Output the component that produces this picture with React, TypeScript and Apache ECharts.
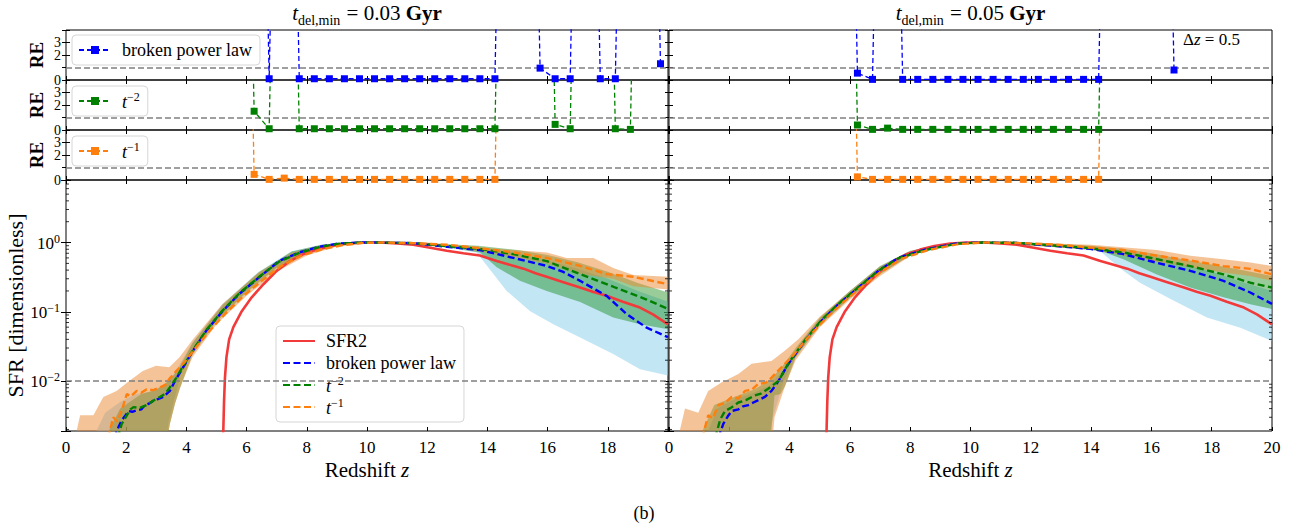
import React, { useEffect, useRef } from 'react';
import * as echarts from 'echarts';

// ---------- DATA ----------
const xTicks = [0, 2, 4, 6, 8, 10, 12, 14, 16, 18, 20];
const logTicks = [0.01, 0.1, 1];
const minorLogTicks = [0.002, 0.003, 0.004, 0.005, 0.006, 0.007, 0.008, 0.009, 0.02, 0.03, 0.04, 0.05, 0.06, 0.07, 0.08, 0.09, 0.2, 0.3, 0.4, 0.5, 0.6, 0.7, 0.8, 0.9, 2, 3, 4, 5, 6, 7, 8];

// relative-error panels (Δz = 0.5 bins)
const zRE = [5.75, 6.25, 6.75, 7.25, 7.75, 8.25, 8.75, 9.25, 9.75, 10.25, 10.75, 11.25, 11.75, 12.25, 12.75, 13.25, 13.75, 14.25, 14.75, 15.25, 15.75, 16.25, 16.75, 17.25, 17.75, 18.25, 18.75, 19.25, 19.75];
const reBplLeft = [null, 60, 0.1, 60, 0.1, 0.1, 0.1, 0.1, 0.1, 0.1, 0.1, 0.1, 0.1, 0.1, 0.1, 0.1, 0.1, 0.1, 60, 60, 0.95, 0.1, 0.1, 60, 0.1, 0.1, 60, 60, 1.3];
const reT2Left = [60, 1.5, 0.1, 60, 0.1, 0.1, 0.1, 0.1, 0.1, 0.1, 0.1, 0.1, 0.1, 0.1, 0.1, 0.1, 0.1, 0.1, 60, 60, 60, 0.45, 0.1, 60, 60, 0.1, 0.05, 60, 60];
const reT1Left = [60, 0.45, 0.05, 0.15, 0.05, 0.05, 0.05, 0.05, 0.05, 0.05, 0.05, 0.05, 0.05, 0.05, 0.05, 0.05, 0.05, 0.05, 60, null, null, null, null, null, null, null, null, null, null];
const reBplRight = [60, 0.55, 0.05, 60, 0.05, 0.05, 0.05, 0.05, 0.05, 0.05, 0.05, 0.05, 0.05, 0.05, 0.05, 0.05, 0.05, 0.05, 60, 60, 60, 60, 0.8, null, null, null, null, null, null];
const reT2Right = [60, 0.4, 0.05, 0.15, 0.05, 0.05, 0.05, 0.05, 0.05, 0.05, 0.05, 0.05, 0.05, 0.05, 0.05, 0.05, 0.05, 0.05, 60, null, null, null, null, null, null, null, null, null, null];
const reT1Right = [60, 0.25, 0.05, 0.05, 0.05, 0.05, 0.05, 0.05, 0.05, 0.05, 0.05, 0.05, 0.05, 0.05, 0.05, 0.05, 0.05, 0.05, 60, null, null, null, null, null, null, null, null, null, null];

// SFR panels: [redshift, SFR]
const sfr2 = [[5.22, 0.0015], [5.25, 0.005], [5.28, 0.011], [5.33, 0.022], [5.42, 0.04], [5.56, 0.06], [5.84, 0.102], [6.17, 0.162], [6.56, 0.25], [7.0, 0.39], [7.44, 0.54], [7.88, 0.68], [8.33, 0.79], [8.8, 0.89], [9.33, 0.97], [9.9, 1.0], [10.45, 1.0], [11.0, 0.97], [11.54, 0.93], [12.1, 0.84], [12.65, 0.76], [13.2, 0.7], [13.75, 0.65], [14.31, 0.54], [14.8, 0.47], [15.2, 0.42], [15.6, 0.36], [15.97, 0.32], [16.5, 0.27], [17.08, 0.224], [17.5, 0.195], [17.96, 0.17], [18.5, 0.14], [19.07, 0.115], [19.5, 0.092], [20, 0.066]];

const bplLeft = [[1.6, 0.0015], [1.75, 0.0022], [1.85, 0.0027], [2.0, 0.0033], [2.07, 0.0037], [2.2, 0.0036], [2.35, 0.0038], [2.5, 0.0039], [2.62, 0.0045], [2.75, 0.0047], [2.9, 0.0052], [3.05, 0.0055], [3.23, 0.0059], [3.35, 0.0066], [3.45, 0.0072], [3.62, 0.01], [3.89, 0.0158], [4.22, 0.0275], [4.67, 0.054], [5.2, 0.102], [5.76, 0.182], [6.42, 0.316], [7.08, 0.54], [7.75, 0.72], [8.41, 0.87], [9.08, 0.97], [9.8, 1.0], [10.43, 1.0], [11.54, 0.98], [12.65, 0.87], [13.75, 0.78], [14.86, 0.6], [15.97, 0.46], [16.5, 0.38], [17.08, 0.28], [17.5, 0.22], [17.96, 0.17], [18.62, 0.093], [19.29, 0.059], [20, 0.043]];
const t2Left = [[1.72, 0.0015], [1.85, 0.0024], [2.02, 0.0032], [2.14, 0.0039], [2.24, 0.0042], [2.45, 0.0041], [2.68, 0.0045], [2.9, 0.0052], [3.12, 0.0059], [3.3, 0.0066], [3.45, 0.0081], [3.67, 0.0112], [3.89, 0.0165], [4.22, 0.028], [4.67, 0.055], [5.2, 0.104], [5.76, 0.185], [6.42, 0.32], [7.08, 0.53], [7.75, 0.71], [8.41, 0.86], [9.08, 0.96], [9.8, 1.0], [10.43, 1.0], [11.54, 0.98], [12.65, 0.89], [13.75, 0.81], [14.86, 0.68], [15.97, 0.54], [17.08, 0.35], [18.18, 0.23], [19.29, 0.15], [20, 0.11]];
const t1Left = [[1.4, 0.0015], [1.57, 0.003], [1.7, 0.0026], [1.85, 0.0037], [2.02, 0.0065], [2.15, 0.006], [2.35, 0.0072], [2.5, 0.0068], [2.68, 0.0076], [2.9, 0.0074], [3.12, 0.0081], [3.3, 0.0088], [3.45, 0.011], [3.67, 0.014], [3.95, 0.019], [4.3, 0.03], [4.75, 0.052], [5.3, 0.095], [5.9, 0.17], [6.5, 0.28], [7.15, 0.46], [7.8, 0.64], [8.5, 0.8], [9.2, 0.92], [9.9, 0.99], [10.6, 1.0], [11.54, 0.98], [12.65, 0.93], [13.75, 0.83], [14.86, 0.72], [15.97, 0.6], [17.08, 0.46], [17.96, 0.35], [18.85, 0.32], [20, 0.25]];

const bplBandLeftUp = [[0.9, 0.0015], [1.3, 0.0035], [1.8, 0.005], [2.3, 0.0065], [2.8, 0.007], [3.3, 0.009], [3.6, 0.013], [4.2, 0.036], [5.2, 0.13], [6.4, 0.38], [7.5, 0.75], [8.5, 0.94], [9.5, 1.02], [10.5, 1.03], [12, 0.98], [13.7, 0.85], [15, 0.7], [16, 0.55], [17, 0.42], [18, 0.3], [19, 0.2], [20, 0.14]];
const bplBandLeftLo = [[20, 0.012], [19.07, 0.0148], [18.18, 0.0245], [17.08, 0.0427], [16.19, 0.066], [15.42, 0.102], [14.64, 0.2], [14.2, 0.35], [13.64, 0.72], [12.5, 0.86], [11, 0.95], [10, 0.97], [9, 0.92], [8, 0.72], [7, 0.44], [6, 0.2], [5, 0.075], [4.2, 0.025], [3.8, 0.012], [3.4, 0.0025], [3.3, 0.001], [0.9, 0.001]];
const t2BandLeftUp = [[1.3, 0.0015], [1.8, 0.004], [2.5, 0.0065], [3.0, 0.0075], [3.4, 0.01], [3.7, 0.014], [4.2, 0.035], [5.2, 0.125], [6.4, 0.37], [7.5, 0.74], [8.5, 0.93], [9.5, 1.01], [10.5, 1.02], [12, 0.98], [13.7, 0.9], [15, 0.78], [16, 0.66], [17, 0.52], [18, 0.38], [19, 0.26], [20, 0.19]];
const t2BandLeftLo = [[20, 0.056], [19.07, 0.066], [18.18, 0.083], [17.08, 0.138], [15.97, 0.2], [15.08, 0.28], [14.31, 0.44], [13.75, 0.72], [12.5, 0.88], [11, 0.96], [10, 0.98], [9, 0.92], [8, 0.7], [7, 0.43], [6, 0.19], [5, 0.072], [4.2, 0.024], [3.79, 0.008], [3.62, 0.0047], [3.45, 0.0024], [3.3, 0.001], [1.3, 0.001]];
const t1BandLeftUp = [[0.3, 0.0015], [0.47, 0.0032], [0.91, 0.0032], [1.24, 0.0059], [1.68, 0.0072], [2.1, 0.01], [2.55, 0.014], [2.99, 0.0166], [3.43, 0.0158], [3.77, 0.022], [4.22, 0.04], [5.2, 0.13], [6.4, 0.37], [7.5, 0.72], [8.5, 0.92], [9.5, 1.0], [10.5, 1.02], [12, 1.0], [13.75, 0.85], [15.97, 0.72], [16.63, 0.6], [17.52, 0.6], [18.18, 0.43], [18.85, 0.34], [20, 0.32]];
const t1BandLeftLo = [[20, 0.21], [18.85, 0.234], [18.18, 0.3], [17.08, 0.35], [15.97, 0.5], [14.86, 0.62], [13.75, 0.74], [12.5, 0.88], [11, 0.96], [10, 0.97], [9, 0.88], [8, 0.65], [7, 0.38], [6, 0.17], [5, 0.066], [4.2, 0.022], [3.79, 0.008], [3.62, 0.0047], [3.45, 0.0024], [3.3, 0.001], [0.3, 0.001]];

const bplRight = [[1.64, 0.0015], [1.8, 0.0024], [1.95, 0.0031], [2.08, 0.0037], [2.3, 0.0039], [2.45, 0.0043], [2.63, 0.0045], [2.8, 0.0049], [3.0, 0.0054], [3.18, 0.0059], [3.4, 0.0072], [3.63, 0.01], [3.96, 0.0178], [4.51, 0.038], [5.06, 0.074], [5.62, 0.129], [6.28, 0.224], [6.94, 0.39], [7.6, 0.6], [8.49, 0.79], [9.6, 0.98], [10.4, 1.0], [11.5, 0.99], [12.86, 0.89], [13.97, 0.81], [15.07, 0.68], [16.18, 0.51], [17.29, 0.39], [18.39, 0.28], [19.28, 0.19], [20, 0.13]];
const t2Right = [[1.53, 0.0015], [1.7, 0.0028], [1.86, 0.0037], [2.05, 0.0041], [2.3, 0.0049], [2.55, 0.0053], [2.85, 0.0062], [3.05, 0.0066], [3.3, 0.0078], [3.63, 0.01], [3.96, 0.018], [4.51, 0.039], [5.06, 0.076], [5.62, 0.13], [6.28, 0.225], [6.94, 0.39], [7.6, 0.59], [8.49, 0.78], [9.6, 0.97], [10.4, 1.0], [11.5, 0.99], [12.86, 0.9], [13.97, 0.83], [15.07, 0.72], [16.18, 0.575], [17.29, 0.457], [18.39, 0.347], [19.28, 0.263], [20, 0.224]];
const t1Right = [[1.1, 0.0015], [1.3, 0.0032], [1.45, 0.0029], [1.64, 0.0045], [1.85, 0.0048], [2.08, 0.0059], [2.3, 0.0056], [2.52, 0.0072], [2.75, 0.0075], [2.96, 0.0091], [3.2, 0.0094], [3.4, 0.0112], [3.73, 0.0158], [4.1, 0.023], [4.6, 0.042], [5.2, 0.08], [5.8, 0.14], [6.4, 0.23], [7.0, 0.37], [7.7, 0.58], [8.6, 0.78], [9.6, 0.95], [10.5, 1.0], [11.5, 0.99], [12.86, 0.93], [13.97, 0.85], [15.07, 0.78], [16.18, 0.646], [17.29, 0.55], [18.39, 0.457], [19.28, 0.417], [20, 0.347]];

const bplBandRightUp = [[1.2, 0.0015], [1.6, 0.004], [2.2, 0.0055], [2.8, 0.0068], [3.3, 0.0085], [3.7, 0.013], [4.2, 0.028], [5, 0.08], [6, 0.2], [7, 0.45], [8, 0.75], [9, 0.93], [10, 1.02], [11, 1.03], [12.5, 0.97], [14, 0.88], [15, 0.78], [16, 0.64], [17, 0.5], [18, 0.38], [19, 0.27], [20, 0.2]];
const bplBandRightLo = [[20, 0.038], [18.95, 0.059], [17.84, 0.083], [16.73, 0.145], [15.62, 0.263], [15.07, 0.39], [14.3, 0.75], [13, 0.85], [11.5, 0.95], [10, 0.97], [9, 0.9], [8, 0.66], [7, 0.35], [6, 0.16], [5, 0.064], [4.2, 0.022], [3.8, 0.01], [3.4, 0.0025], [3.3, 0.001], [1.2, 0.001]];
const t2BandRightUp = [[1.0, 0.0015], [1.5, 0.0045], [2.2, 0.006], [2.8, 0.0075], [3.3, 0.01], [3.7, 0.015], [4.2, 0.03], [5, 0.082], [6, 0.2], [7, 0.46], [8, 0.76], [9, 0.94], [10, 1.02], [11, 1.03], [12.5, 0.98], [14, 0.9], [15, 0.82], [16, 0.7], [17, 0.58], [18, 0.48], [19, 0.4], [20, 0.33]];
const t2BandRightLo = [[20, 0.11], [19.28, 0.129], [18.39, 0.162], [17.29, 0.224], [16.18, 0.347], [15.07, 0.575], [14.3, 0.76], [13.97, 0.8], [12.5, 0.88], [11, 0.96], [10, 0.97], [9, 0.89], [8, 0.65], [7, 0.35], [6, 0.16], [5, 0.064], [4.2, 0.022], [3.85, 0.0085], [3.7, 0.0065], [3.5, 0.0062], [3.4, 0.002], [3.3, 0.001], [1.0, 0.001]];
const t1BandRightUp = [[0.3, 0.0015], [0.53, 0.004], [0.97, 0.0035], [1.3, 0.0072], [1.74, 0.0095], [2.3, 0.0126], [2.74, 0.0178], [3.4, 0.0195], [3.84, 0.0275], [4.29, 0.04], [5, 0.085], [6, 0.2], [7, 0.45], [8, 0.74], [9, 0.93], [10, 1.0], [11, 1.02], [12.5, 0.98], [14, 0.93], [16.18, 0.78], [17.29, 0.646], [18.39, 0.575], [19.28, 0.513], [20, 0.457]];
const t1BandRightLo = [[20, 0.28], [19.28, 0.33], [18.39, 0.37], [17.29, 0.44], [16.18, 0.53], [15.07, 0.65], [14, 0.78], [12.5, 0.88], [11, 0.96], [10, 0.97], [9, 0.88], [8, 0.64], [7, 0.33], [6, 0.15], [5, 0.06], [4.2, 0.02], [3.85, 0.0085], [3.5, 0.003], [3.4, 0.001], [0.3, 0.001]];

const titles = ['0.03', '0.05'];

// ---------- STYLE ----------
const FONT = '"Liberation Serif", "DejaVu Serif", serif';
const BLUE = '#0000ff';
const GREEN = '#008000';
const ORANGE = '#ff7f0e';
const RED = '#f23a3a';
const BAND_BLUE = 'rgba(135,206,235,0.5)';
const BAND_GREEN = 'rgba(0,128,0,0.4)';
const BAND_ORANGE = 'rgba(235,135,50,0.5)';

const COLS = [{ left: 66, width: 602 }, { left: 669, width: 603 }];
const ROWS = [{ top: 30, height: 50 }, { top: 80, height: 50 }, { top: 130, height: 50 }, { top: 180, height: 251 }];

const legendNames: Record<string, string> = {
  re_bpl_0: 'broken power law',
  re_t2_0: '{i|t}{s|−2}',
  re_t1_0: '{i|t}{s|−1}',
  SFR2: 'SFR2',
  bpl_0: 'broken power law',
  t2_0: '{i|t}{s|−2}',
  t1_0: '{i|t}{s|−1}',
};

const legendRich = {
  i: { fontFamily: FONT, fontStyle: 'italic', fontSize: 18, lineHeight: 20, color: '#000', verticalAlign: 'bottom' },
  s: { fontFamily: FONT, fontSize: 12, lineHeight: 12, color: '#000', verticalAlign: 'bottom', padding: [0, 0, 8, 0] },
};

function legendBase(data: string[], left: number, top: number, gap: number, hideSymbol: boolean) {
  const l: any = {
    data,
    orient: 'vertical',
    left,
    top,
    itemWidth: 32,
    itemHeight: 10,
    itemGap: gap,
    padding: [5, 8, 5, 6],
    backgroundColor: 'rgba(255,255,255,0.8)',
    borderColor: '#d6d6d6',
    borderWidth: 1,
    borderRadius: 4,
    selectedMode: false,
    formatter: (n: string) => legendNames[n] ?? n,
    textStyle: { fontFamily: FONT, fontSize: 18, lineHeight: 20, color: '#000', padding: [0, 0, 0, 6], rich: legendRich },
  };
  if (hideSymbol) l.itemStyle = { opacity: 0 };
  return l;
}

function band(up: number[][], lo: number[][], color: string, g: number) {
  return {
    type: 'custom',
    xAxisIndex: 2 * g,
    yAxisIndex: 2 * g,
    clip: true,
    silent: true,
    z: 1,
    data: [0],
    renderItem: (_p: any, api: any) => {
      const pts = up.concat(lo).map((p) => api.coord(p));
      return { type: 'polygon', shape: { points: pts }, style: { fill: color, stroke: null } };
    },
  };
}

function dashedLine(name: string, data: number[][], color: string, g: number, z: number) {
  return {
    type: 'line',
    name,
    xAxisIndex: 2 * g,
    yAxisIndex: 2 * g,
    data,
    showSymbol: false,
    symbol: 'none',
    z,
    lineStyle: { color, width: 2.4, type: [7, 3.5] },
    itemStyle: { color },
  };
}

function reLine(name: string, vals: (number | null)[], color: string, g: number) {
  return {
    type: 'line',
    name,
    xAxisIndex: 2 * g,
    yAxisIndex: 2 * g,
    data: zRE.map((z, i) => [z, vals[i] == null ? '-' : vals[i]]),
    symbol: 'rect',
    symbolSize: 7,
    showAllSymbol: true,
    z: 5,
    lineStyle: { color, width: 1.3, type: [5, 3] },
    itemStyle: { color },
    markLine: {
      silent: true,
      symbol: 'none',
      label: { show: false },
      lineStyle: { color: '#808080', width: 1.5, type: [6, 3] },
      data: [{ yAxis: 1 }],
    },
  };
}

function buildOption() {
  const grid: any[] = [];
  const xAxis: any[] = [];
  const yAxis: any[] = [];
  const tickStyle = { lineStyle: { color: '#000', width: 1 } };

  COLS.forEach((c, ci) => {
    ROWS.forEach((r, ri) => {
      const g = ci * 4 + ri;
      const isMain = ri === 3;
      grid.push({ left: c.left, top: r.top, width: c.width, height: r.height, show: true, borderColor: '#000', borderWidth: 1, backgroundColor: 'transparent' });
      const xb: any = {
        gridIndex: g, type: 'value', min: 0, max: 20, interval: 2, position: 'bottom',
        axisLine: { show: false }, splitLine: { show: false },
        axisTick: { show: true, inside: true, length: 4, ...tickStyle },
        axisLabel: {
          show: isMain, color: '#000', fontFamily: FONT, fontSize: 17, margin: 8,
          showMinLabel: true, showMaxLabel: true,
          formatter: (v: number) => (xTicks.includes(v) && !(ci === 0 && v === 20) ? String(v) : ''),
        },
      };
      if (isMain) {
        xb.name = '{n|Redshift }{i|z}';
        xb.nameLocation = 'middle';
        xb.nameGap = 28;
        xb.nameTextStyle = {
          rich: {
            n: { fontFamily: FONT, fontSize: 21, color: '#000' },
            i: { fontFamily: FONT, fontSize: 21, fontStyle: 'italic', color: '#000' },
          },
        };
      }
      xAxis.push(xb);
      xAxis.push({
        gridIndex: g, type: 'value', min: 0, max: 20, interval: 2, position: 'top',
        axisLine: { show: false }, splitLine: { show: false },
        axisTick: { show: true, inside: true, length: 4, ...tickStyle },
        axisLabel: { show: false },
      });
      if (isMain) {
        const yl: any = {
          gridIndex: g, type: 'log', logBase: 10, min: 0.0019, max: 8, position: 'left',
          axisLine: { show: false }, splitLine: { show: false },
          axisTick: { show: true, inside: true, length: 5, ...tickStyle },
          axisLabel: {
            show: ci === 0, margin: 6,
            formatter: (v: number) => {
              const t = logTicks.find((k) => Math.abs(Math.log10(v) - Math.log10(k)) < 1e-6);
              if (t === undefined) return '';
              const e = Math.round(Math.log10(t));
              return `{b|10}{e|${e < 0 ? '−' + -e : e}}`;
            },
            rich: {
              b: { fontFamily: FONT, fontSize: 17, lineHeight: 18, color: '#000', verticalAlign: 'bottom' },
              e: { fontFamily: FONT, fontSize: 12, lineHeight: 12, color: '#000', verticalAlign: 'bottom', padding: [0, 0, 7, 0] },
            },
          },
        };
        if (ci === 0) {
          yl.name = 'SFR [dimensionless]';
          yl.nameLocation = 'middle';
          yl.nameGap = 34;
          yl.nameRotate = 90;
          yl.nameTextStyle = { fontFamily: FONT, fontSize: 22, color: '#000' };
        }
        yAxis.push(yl);
        yAxis.push({
          gridIndex: g, type: 'log', logBase: 10, min: 0.0019, max: 8, position: 'right',
          axisLine: { show: false }, splitLine: { show: false },
          axisTick: { show: true, inside: true, length: 5, ...tickStyle },
          axisLabel: { show: false },
        });
      } else {
        const yl: any = {
          gridIndex: g, type: 'value', min: 0, max: 4, interval: 1, position: 'left',
          axisLine: { show: false }, splitLine: { show: false },
          axisTick: { show: true, inside: true, length: 4, ...tickStyle },
          axisLabel: {
            show: ci === 0, color: '#000', fontFamily: FONT, fontSize: 14, lineHeight: 11, margin: 5,
            showMinLabel: true,
            formatter: (v: number) => (v < 4 ? String(v) : ''),
          },
        };
        if (ci === 0) {
          yl.name = 'RE';
          yl.nameLocation = 'middle';
          yl.nameGap = 21;
          yl.nameRotate = 90;
          yl.nameTextStyle = { fontFamily: FONT, fontSize: 19, lineHeight: 18, color: '#000', fontWeight: 'bold' };
        }
        yAxis.push(yl);
        yAxis.push({
          gridIndex: g, type: 'value', min: 0, max: 4, interval: 1, position: 'right',
          axisLine: { show: false }, splitLine: { show: false },
          axisTick: { show: true, inside: true, length: 4, ...tickStyle },
          axisLabel: { show: false },
        });
      }
    });
  });

  const series: any[] = [];
  // RE panels
  const reSets = [
    [reBplLeft, reT2Left, reT1Left],
    [reBplRight, reT2Right, reT1Right],
  ];
  const reNames = ['re_bpl', 're_t2', 're_t1'];
  const reColors = [BLUE, GREEN, ORANGE];
  reSets.forEach((set, ci) => {
    set.forEach((vals, ri) => {
      series.push(reLine(`${reNames[ri]}_${ci}`, vals, reColors[ri], ci * 4 + ri));
    });
  });

  // main panels
  const mains = [
    { bands: [[bplBandLeftUp, bplBandLeftLo], [t2BandLeftUp, t2BandLeftLo], [t1BandLeftUp, t1BandLeftLo]], lines: [bplLeft, t2Left, t1Left] },
    { bands: [[bplBandRightUp, bplBandRightLo], [t2BandRightUp, t2BandRightLo], [t1BandRightUp, t1BandRightLo]], lines: [bplRight, t2Right, t1Right] },
  ];
  const bandColors = [BAND_BLUE, BAND_GREEN, BAND_ORANGE];
  const lineNames = ['bpl', 't2', 't1'];
  mains.forEach((m, ci) => {
    const g = ci * 4 + 3;
    m.bands.forEach((b, bi) => series.push(band(b[0], b[1], bandColors[bi], g)));
    series.push({
      type: 'line', name: 'SFR2', xAxisIndex: 2 * g, yAxisIndex: 2 * g, data: sfr2,
      showSymbol: false, symbol: 'none', z: 3,
      lineStyle: { color: RED, width: 2.6 }, itemStyle: { color: RED },
      markLine: {
        silent: true, symbol: 'none', label: { show: false },
        lineStyle: { color: '#808080', width: 1.5, type: [6, 3] },
        data: [{ yAxis: 0.01 }],
      },
    });
    m.lines.forEach((d, li) => series.push(dashedLine(`${lineNames[li]}_${ci}`, d, reColors[li], g, 4 + li)));
    // minor log ticks (left and right frame edges)
    series.push({
      type: 'scatter', xAxisIndex: 2 * g, yAxisIndex: 2 * g, silent: true, clip: false, z: 10,
      data: minorLogTicks.map((v) => [0, v]), symbol: 'rect', symbolSize: [3, 1], symbolOffset: [1.5, 0],
      itemStyle: { color: '#000' },
    });
    series.push({
      type: 'scatter', xAxisIndex: 2 * g, yAxisIndex: 2 * g, silent: true, clip: false, z: 10,
      data: minorLogTicks.map((v) => [20, v]), symbol: 'rect', symbolSize: [3, 1], symbolOffset: [-1.5, 0],
      itemStyle: { color: '#000' },
    });
  });

  const legend = [
    legendBase(['re_bpl_0'], 72, 35, 4, false),
    legendBase(['re_t2_0'], 72, 86, 4, false),
    legendBase(['re_t1_0'], 72, 136, 4, false),
    legendBase(['SFR2', 'bpl_0', 't2_0', 't1_0'], 276, 326, 2, true),
  ];

  const titleRich = {
    i: { fontFamily: FONT, fontSize: 21, fontStyle: 'italic', color: '#000', verticalAlign: 'bottom', padding: [0, 0, 4, 0] },
    sub: { fontFamily: FONT, fontSize: 14, color: '#000', verticalAlign: 'bottom', padding: [0, 1, 0, 0] },
    n: { fontFamily: FONT, fontSize: 21, color: '#000', verticalAlign: 'bottom', padding: [0, 0, 4, 0] },
    b: { fontFamily: FONT, fontSize: 21, fontWeight: 'bold', color: '#000', verticalAlign: 'bottom', padding: [0, 0, 4, 0] },
  };

  const graphic: any[] = [
    ...COLS.map((c, ci) => ({
      type: 'text',
      x: c.left + c.width / 2,
      y: 15,
      style: {
        text: `{i|t}{sub|del,min}{n| = ${titles[ci]} }{b|Gyr}`,
        align: 'center',
        verticalAlign: 'middle',
        rich: titleRich,
      },
    })),
    {
      type: 'text',
      x: 1183,
      y: 39,
      style: {
        text: '{n|Δ}{i|z}{n| = 0.5}',
        align: 'left',
        verticalAlign: 'middle',
        rich: {
          n: { fontFamily: FONT, fontSize: 17, color: '#000' },
          i: { fontFamily: FONT, fontSize: 17, fontStyle: 'italic', color: '#000' },
        },
      },
    },
    {
      type: 'text',
      x: 644,
      y: 513,
      style: { text: '(b)', align: 'center', verticalAlign: 'middle', fontFamily: FONT, fontSize: 18, fill: '#000' },
    },
  ];

  return { animation: false, backgroundColor: '#fff', grid, xAxis, yAxis, series, legend, graphic };
}

export default function App() {
  const ref = useRef<HTMLDivElement>(null);
  useEffect(() => {
    if (!ref.current) return;
    const chart = echarts.init(ref.current, null, { renderer: 'svg' });
    chart.setOption(buildOption() as any);
    return () => chart.dispose();
  }, []);
  return <div ref={ref} style={{ position: 'absolute', left: 0, top: 0, width: 1289, height: 527, background: '#fff' }} />;
}
